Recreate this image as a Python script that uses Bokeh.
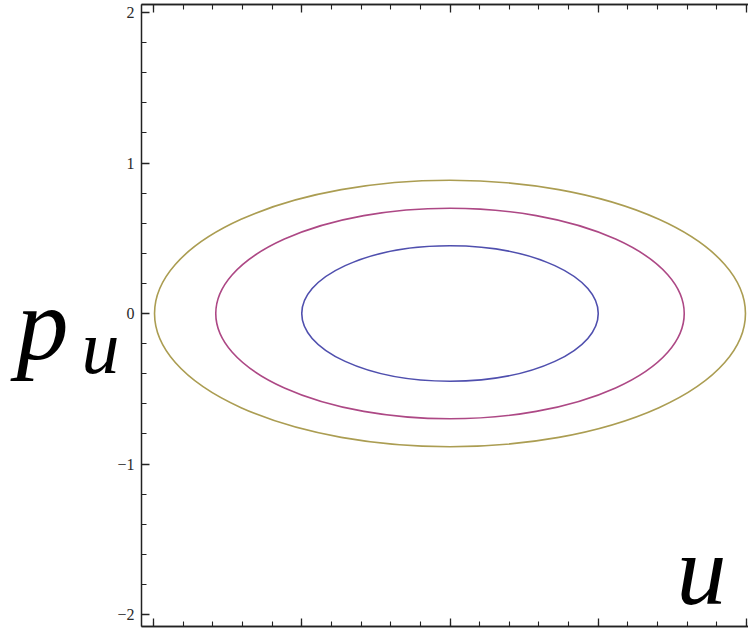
from bokeh.plotting import figure
from bokeh.models import Range1d, LinearAxis, FixedTicker, Label, ColumnDataSource
from bokeh.embed import file_html
from bokeh.resources import INLINE

# ---- data ----
orbit_u_center = [0.0, 0.0, 0.0]
orbit_p_center = [0.0, 0.0, 0.0]
orbit_u_semi = [1.0, 1.58, 1.993]
orbit_p_semi = [0.45, 0.70, 0.885]
orbit_colors = ["#4f4fae", "#ad4885", "#ab9d52"]

x_major = [-2, -1, 0, 1, 2]
y_major = [-2, -1, 0, 1, 2]
y_labels = {-2: "\u22122", -1: "\u22121", 0: "0", 1: "1", 2: "2"}
x_minor = [-2 + 0.2 * i for i in range(21)]
y_minor = [-2 + 0.2 * i for i in range(21)]

# ---- layout (canvas pixels) ----
W, H = 748, 628
SX = 148.25   # px per unit, horizontal
SY = 150.5    # px per unit, vertical
X_M2 = 153    # pixel of u = -2
Y_P2 = 12     # pixel of p_u = 2
FRAME_LEFT, FRAME_TOP, FRAME_BOTTOM = 141, 4, 626

xmin = -2 - X_M2 / SX
xmax = xmin + W / SX
ymax = 2 + Y_P2 / SY
ymin = ymax - H / SY

def ux(px):
    return xmin + px / SX

def uy(py):
    return ymax - py / SY

x_left = ux(FRAME_LEFT)
y_top = uy(FRAME_TOP)
y_bot = uy(FRAME_BOTTOM)

p = figure(width=W, height=H, output_backend="svg", toolbar_location=None,
           x_range=Range1d(xmin, xmax), y_range=Range1d(ymin, ymax),
           x_axis_location=None, y_axis_location=None,
           min_border_left=0, min_border_right=0,
           min_border_top=0, min_border_bottom=0)
p.outline_line_color = None
p.background_fill_color = "white"
p.border_fill_color = "white"
p.xgrid.visible = False
p.ygrid.visible = False

AX = "#222222"

def base_style(ax):
    ax.axis_line_color = AX
    ax.axis_line_width = 1.5
    ax.major_tick_line_color = AX
    ax.minor_tick_line_color = AX
    ax.major_tick_line_width = 1.3
    ax.minor_tick_line_width = 1.1
    ax.major_tick_out = 0
    ax.minor_tick_out = 0

# left axis with labels
left = LinearAxis(ticker=FixedTicker(ticks=y_major, minor_ticks=y_minor),
                  fixed_location=x_left, bounds=(y_bot, y_top))
base_style(left)
left.major_tick_in = 8
left.minor_tick_in = 5
left.major_label_overrides = y_labels
left.major_label_text_font = "Liberation Serif"
left.major_label_text_font_size = "16px"
left.major_label_text_color = "#2a2a2a"
left.major_label_standoff = 7
p.add_layout(left, "left")

# top and bottom frame edges: tick marks only
for loc, yv in (("below", y_bot), ("above", y_top)):
    short = LinearAxis(ticker=FixedTicker(ticks=[], minor_ticks=x_minor),
                       fixed_location=yv, bounds=(x_left, xmax))
    base_style(short)
    short.minor_tick_in = 5
    p.add_layout(short, loc)
    long_ = LinearAxis(ticker=FixedTicker(ticks=[], minor_ticks=x_major),
                       fixed_location=yv, bounds=(x_left, xmax))
    base_style(long_)
    long_.minor_tick_in = 8
    long_.minor_tick_line_width = 1.3
    p.add_layout(long_, loc)

src = ColumnDataSource(dict(
    x=orbit_u_center, y=orbit_p_center,
    w=[2 * a for a in orbit_u_semi], h=[2 * b for b in orbit_p_semi],
    c=orbit_colors))
p.ellipse(x="x", y="y", width="w", height="h", source=src,
          fill_color=None, line_color="c", line_width=1.6)

def math_label(px, baseline_py, text, size):
    # text_baseline="middle" anchors the text box centre; shift so the
    # alphabetic baseline lands on baseline_py (canvas pixels)
    off = 0.3375 * size
    return Label(x=ux(px), y=uy(baseline_py - off), text=text,
                 text_font="Liberation Serif", text_font_style="italic",
                 text_font_size=f"{size}px", text_baseline="middle",
                 text_align="left", text_color="black")

p.add_layout(math_label(16, 358, "p", 104))
p.add_layout(math_label(81, 372, "u", 76))
p.add_layout(math_label(676, 604, "u", 100))

open("out.html", "w").write(file_html(p, INLINE))
